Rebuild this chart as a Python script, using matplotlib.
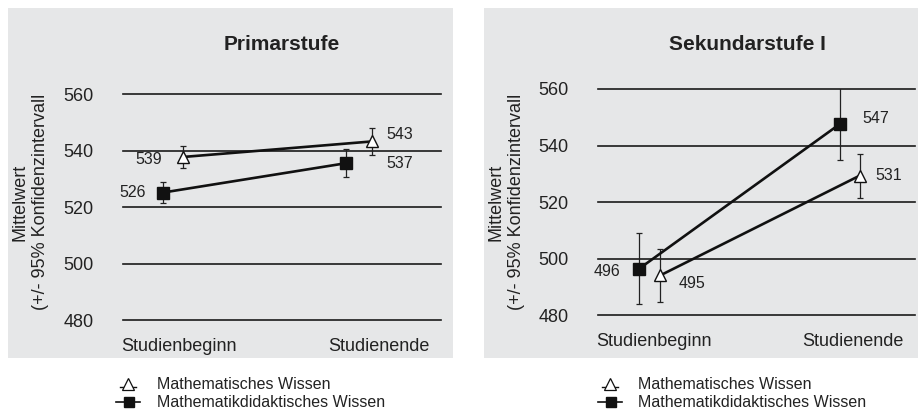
import matplotlib
matplotlib.use("Agg")
import matplotlib.pyplot as plt
from matplotlib.patches import Rectangle
from matplotlib.lines import Line2D

plt.rcParams['font.family'] = ['Liberation Sans', 'DejaVu Sans']

W, H = 918, 411

# categories / ticks
cats = ['Studienbeginn', 'Studienende']
tick_x = [0.175, 0.805]
yticks = [480, 500, 520, 540, 560]

# Primarstufe
prim_math_x = [0.188, 0.782]
prim_math_y = [537.7, 543.2]
prim_math_ci = [3.9, 4.7]
prim_math_lab = ['539', '543']
prim_did_x = [0.125, 0.701]
prim_did_y = [525.1, 535.5]
prim_did_ci = [3.8, 5.0]
prim_did_lab = ['526', '537']

# Sekundarstufe I
sek_math_x = [0.196, 0.825]
sek_math_y = [494.0, 529.3]
sek_math_ci = [9.5, 7.8]
sek_math_lab = ['495', '531']
sek_did_x = [0.130, 0.764]
sek_did_y = [496.4, 547.7]
sek_did_ci = [12.5, 12.9]
sek_did_lab = ['496', '547']

legend_labels = ['Mathematisches Wissen', 'Mathematikdidaktisches Wissen']

txt = '#222222'
gray = '#e6e7e8'


def fx(px):
    return px / W


def fy(py):
    return 1 - py / H


fig = plt.figure(figsize=(W / 100, H / 100), dpi=100)
fig.patch.set_facecolor('white')

# gray panels (behind the axes)
fig.patches.append(Rectangle((fx(8), fy(358)), fx(445), 350 / H, transform=fig.transFigure,
                             facecolor=gray, edgecolor='none', zorder=-5))
fig.patches.append(Rectangle((fx(484), fy(358)), fx(434), 350 / H, transform=fig.transFigure,
                             facecolor=gray, edgecolor='none', zorder=-5))


def panel(rect, title, title_x, ylab_x, math, did, offs):
    ax = fig.add_axes(rect)
    ax.set_facecolor('none')
    ax.set_xlim(0, 1)
    ax.set_ylim(480, 560)
    for s in ax.spines.values():
        s.set_visible(False)
    ax.set_yticks(yticks)
    ax.set_xticks(tick_x)
    ax.set_xticklabels(cats)
    ax.tick_params(axis='y', length=0, pad=21, labelsize=13, labelcolor=txt)
    ax.tick_params(axis='x', length=0, pad=13, labelsize=13, labelcolor=txt)
    ax.grid(True, axis='y', color='#1a1a1a', lw=1.2)
    ax.grid(False, axis='x')
    for l in ax.get_ygridlines():
        l.set_clip_on(False)
    ax.set_axisbelow(True)

    mx, my, mci, mlab = math
    dx, dy, dci, dlab = did
    ax.errorbar(dx, dy, yerr=dci, fmt='none', ecolor='#222', elinewidth=0.9, capsize=2.5, capthick=0.9, zorder=2)
    ax.errorbar(mx, my, yerr=mci, fmt='none', ecolor='#222', elinewidth=0.9, capsize=2.5, capthick=0.9, zorder=2)
    ax.plot(dx, dy, color='#111', lw=1.9, marker='s', ms=8, mfc='#111', mec='#111', zorder=3, clip_on=False)
    ax.plot(mx, my, color='#111', lw=1.9, marker='^', ms=9, mfc='white', mec='#111', mew=1, zorder=4, clip_on=False)

    for i in range(2):
        ax.annotate(mlab[i], (mx[i], my[i]), xytext=offs[0][i], textcoords='offset pixels',
                    ha='center', va='center', fontsize=11.5, color=txt)
        ax.annotate(dlab[i], (dx[i], dy[i]), xytext=offs[1][i], textcoords='offset pixels',
                    ha='center', va='center', fontsize=11.5, color=txt)

    fig.text(fx(title_x), fy(45), title, ha='center', va='center', fontsize=15,
             fontweight='bold', color=txt)
    fig.text(fx(ylab_x), fy(202), 'Mittelwert\n(+/- 95% Konfidenzintervall', rotation=90,
             ha='center', va='center', multialignment='center', fontsize=13, color=txt,
             linespacing=1.3)
    return ax


panel([fx(123), fy(320), fx(318), 226 / H], 'Primarstufe', 282, 30,
      (prim_math_x, prim_math_y, prim_math_ci, prim_math_lab),
      (prim_did_x, prim_did_y, prim_did_ci, prim_did_lab),
      ([(-34, -3), (28, 7)], [(-30, 0), (54, 0)]))

panel([fx(598), fy(315), fx(317), 226 / H], 'Sekundarstufe I', 747, 506,
      (sek_math_x, sek_math_y, sek_math_ci, sek_math_lab),
      (sek_did_x, sek_did_y, sek_did_ci, sek_did_lab),
      ([(32, -8), (29, 0)], [(-32, -3), (36, 5)]))


def legend(x0, text_x):
    # triangle entry
    fig.add_artist(Line2D([fx(x0 - 8), fx(x0 + 8)], [fy(387), fy(387)], transform=fig.transFigure,
                          color='#111', lw=1))
    fig.add_artist(Line2D([fx(x0)], [fy(384)], transform=fig.transFigure, marker='^', ms=8,
                          mfc='white', mec='#111', mew=0.9, lw=0))
    fig.text(fx(text_x), fy(384), legend_labels[0], ha='left', va='center', fontsize=11.5, color=txt)
    # square entry
    fig.add_artist(Line2D([fx(x0 - 12), fx(x0 + 12)], [fy(402), fy(402)], transform=fig.transFigure,
                          color='#111', lw=1.2))
    fig.add_artist(Line2D([fx(x0 + 1)], [fy(402)], transform=fig.transFigure, marker='s', ms=6.5,
                          mfc='#111', mec='#111', lw=0))
    fig.text(fx(text_x), fy(402), legend_labels[1], ha='left', va='center', fontsize=11.5, color=txt)


legend(128, 157)
legend(610, 638)

fig.savefig('out.png', dpi=100, facecolor='white')
